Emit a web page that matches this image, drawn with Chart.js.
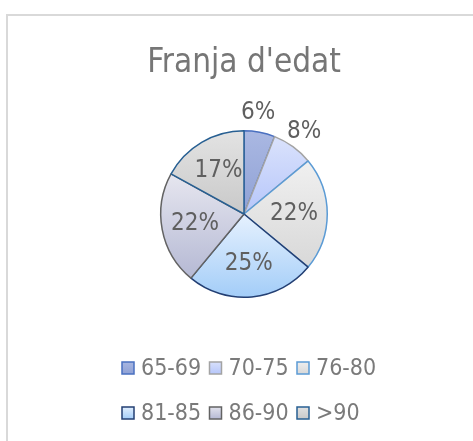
<!DOCTYPE html>
<html>
<head>
<meta charset="utf-8">
<script src="https://cdn.jsdelivr.net/npm/chart.js@4/dist/chart.umd.min.js"></script>
<style>
	html, body { margin: 0; padding: 0; background: #fff; overflow: hidden; }
	#marc { position: absolute; left: 6px; top: 14px; width: 520px; height: 520px; border: 2px solid #d9d9d9; }
	#grafic { position: absolute; left: 0; top: 0; }
</style>
</head>
<body>
<div id="marc"></div>
<canvas id="grafic" width="488" height="441"></canvas>
<script>
// Dades del gràfic
let titol = "Franja d'edat";
let franges = ["65-69", "70-75", "76-80", "81-85", "86-90", ">90"];
let percentatges = [6, 8, 22, 25, 22, 17];

// Colors de cada porció (dalt, baix, vora)
let colorsDalt = ["#aab8e2", "#dae2fc", "#f0f0f0", "#e6f1fe", "#e6e6ef", "#e3e3e3"];
let colorsBaix = ["#8fa1d5", "#b6c6fa", "#d8d8d8", "#a3cdf8", "#b5b9d4", "#c9c9c9"];
let colorsVora = ["#4a70c0", "#a3a3a3", "#5b9bd5", "#233f73", "#636363", "#275f92"];

let fontNom = "'DejaVu Sans Condensed', sans-serif";
let gruixVora = 1.5;

function colorFons(ctx) {
	let i = ctx.dataIndex;
	let ca = ctx.chart.chartArea;
	if (!ca) return colorsBaix[i];
	let cx = (ca.left + ca.right) / 2;
	let cy = (ca.top + ca.bottom) / 2;
	let r = (Math.min(ca.right - ca.left, ca.bottom - ca.top) - gruixVora) / 2;
	let dades = ctx.dataset.data;
	let total = dades.reduce((a, b) => a + b, 0);
	let acc = 0;
	for (let k = 0; k < i; k++) acc += dades[k];
	let a0 = -Math.PI / 2 + acc / total * Math.PI * 2;
	let a1 = a0 + dades[i] / total * Math.PI * 2;
	// extrems verticals de la porció
	let ys = [cy, cy + r * Math.sin(a0), cy + r * Math.sin(a1)];
	for (let c = -Math.PI / 2; c <= Math.PI * 2; c += Math.PI / 2) {
		if (c > a0 && c < a1) ys.push(cy + r * Math.sin(c));
	}
	let ymin = Math.min(...ys), ymax = Math.max(...ys);
	if (ymax - ymin < 1) ymax = ymin + 1;
	let g = ctx.chart.ctx.createLinearGradient(0, ymin, 0, ymax);
	g.addColorStop(0, colorsDalt[i]);
	g.addColorStop(1, colorsBaix[i]);
	return g;
}

// Etiquetes de percentatge i llegenda
const etiquetesPlugin = {
	id: 'etiquetes',
	afterDraw(chart) {
		let ctx = chart.ctx;
		let meta = chart.getDatasetMeta(0);
		let dades = chart.data.datasets[0].data;
		let total = dades.reduce((a, b) => a + b, 0);
		ctx.save();
		ctx.font = "24px " + fontNom;
		ctx.fillStyle = "#5f5f5f";
		ctx.textAlign = "center";
		ctx.textBaseline = "middle";
		meta.data.forEach((arc, i) => {
			let p = arc.getProps(['x', 'y', 'startAngle', 'endAngle', 'outerRadius'], true);
			let mig = (p.startAngle + p.endAngle) / 2;
			let pct = Math.round(dades[i] / total * 100);
			let dist = pct < 10 ? p.outerRadius + 19 : p.outerRadius * 0.6;
			if (pct < 7) mig -= 0.05;
			ctx.fillText(pct + "%", p.x + Math.cos(mig) * dist, p.y + Math.sin(mig) * dist);
		});

		// llegenda en graella de 3 columnes
		ctx.font = "23px " + fontNom;
		ctx.textAlign = "left";
		ctx.textBaseline = "alphabetic";
		let x0 = 121, ample = 87.5, y0 = 375, alt = 45;
		franges.forEach((nom, i) => {
			let col = i % 3, fila = Math.floor(i / 3);
			let x = x0 + col * ample;
			let y = y0 + fila * alt;
			let g = ctx.createLinearGradient(0, y - 14, 0, y - 1);
			g.addColorStop(0, colorsDalt[i]);
			g.addColorStop(1, colorsBaix[i]);
			ctx.fillStyle = g;
			ctx.fillRect(x + 1, y - 13, 12, 12);
			ctx.strokeStyle = colorsVora[i];
			ctx.lineWidth = 1.5;
			ctx.strokeRect(x + 1, y - 13, 12, 12);
			ctx.fillStyle = "#7a7a7a";
			ctx.fillText(nom, x + 20, y);
		});
		ctx.restore();
	}
};

new Chart(document.getElementById('grafic'), {
	type: 'pie',
	data: {
		labels: franges,
		datasets: [{
			data: percentatges,
			backgroundColor: colorFons,
			borderColor: colorsVora,
			borderWidth: gruixVora
		}]
	},
	options: {
		responsive: false,
		animation: false,
		layout: { padding: { top: 0, bottom: 143, left: 0, right: 0 } },
		plugins: {
			legend: { display: false },
			tooltip: { enabled: false },
			title: {
				display: true,
				text: titol,
				color: "#767676",
				font: { family: fontNom, size: 33, weight: 'normal', lineHeight: 1.2 },
				padding: { top: 43.5, bottom: 46.9 }
			}
		}
	},
	plugins: [etiquetesPlugin]
});
</script>
</body>
</html>
